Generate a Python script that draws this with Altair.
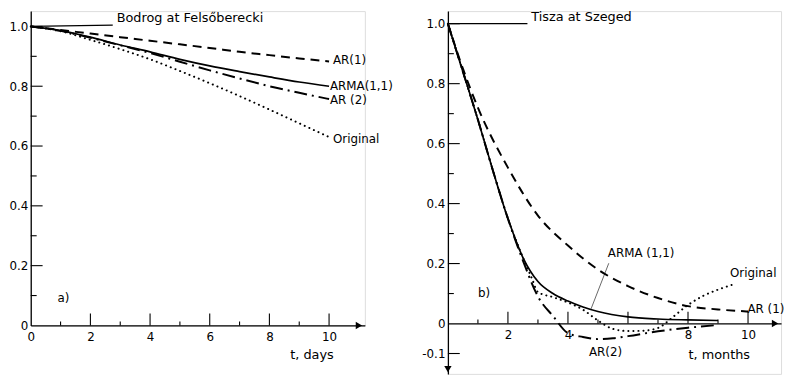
import altair as alt
import pandas as pd

# ---------------- data ----------------
# Panel a) Bodrog at Felsőberecki, t in days
left_t = [0, 1, 2, 3, 4, 5, 6, 7, 8, 9, 10]
left_ar1 = [1.0, 0.988, 0.976, 0.964, 0.952, 0.940, 0.928, 0.915, 0.904, 0.893, 0.883]
left_arma = [1.0, 0.986, 0.964, 0.938, 0.915, 0.890, 0.868, 0.849, 0.831, 0.814, 0.800]
left_ar2 = [1.0, 0.985, 0.962, 0.937, 0.911, 0.882, 0.853, 0.826, 0.800, 0.778, 0.757]
left_orig = [1.0, 0.984, 0.955, 0.924, 0.890, 0.851, 0.810, 0.767, 0.722, 0.676, 0.630]

# Panel b) Tisza at Szeged, t in months
right_ar1_t = [0, 0.5, 1, 2, 3, 4, 5, 6, 7, 8, 9, 10]
right_ar1 = [1.0, 0.85, 0.72, 0.52, 0.36, 0.26, 0.18, 0.125, 0.085, 0.058, 0.047, 0.04]
right_arma_t = [0, 0.5, 1, 1.5, 2, 2.5, 3, 3.5, 4, 4.5, 5, 6, 7, 8, 9]
right_arma = [1.0, 0.84, 0.68, 0.51, 0.35, 0.22, 0.14, 0.10, 0.075, 0.055, 0.04, 0.022, 0.015, 0.012, 0.01]
right_ar2_t = [0, 0.5, 1, 1.5, 2, 2.5, 3, 3.5, 4, 4.5, 5, 5.5, 6, 7, 8, 9]
right_ar2 = [1.0, 0.84, 0.68, 0.51, 0.35, 0.21, 0.09, 0.025, -0.032, -0.045, -0.052, -0.049, -0.042, -0.026, -0.014, -0.005]
right_orig_t = [0, 0.5, 1, 1.5, 2, 2.5, 2.8, 3.0, 3.5, 4.0, 4.5, 5.0, 5.5, 6.0, 6.5, 7.0, 7.5, 8.0, 8.5, 9.0, 9.5]
right_orig = [1.0, 0.84, 0.68, 0.51, 0.35, 0.22, 0.15, 0.105, 0.088, 0.07, 0.046, 0.01, -0.018, -0.025,
              -0.024, -0.015, 0.022, 0.062, 0.092, 0.113, 0.13]

# tick values
left_x_labels = [0, 2, 4, 6, 8, 10]
left_y_labels = [0, 0.2, 0.4, 0.6, 0.8, 1.0]
right_x_labels = [2, 4, 8, 10]
right_y_labels = [-0.1, 0, 0.2, 0.4, 0.6, 0.8, 1.0]
x_major = [2, 4, 6, 8, 10]
x_minor = [1, 3, 5, 7, 9]
left_y_major = [0.2, 0.4, 0.6, 0.8, 1.0]
left_y_minor = [0.1, 0.3, 0.5, 0.7, 0.9]
right_y_major = [-0.1, 0.2, 0.4, 0.6, 0.8, 1.0]
right_y_minor = [0.1, 0.3, 0.5, 0.7, 0.9]

# annotations (text, t, value)
left_labels = [("AR(1)", 10.13, 0.886), ("ARMA(1,1)", 10.03, 0.800), ("AR (2)", 10.03, 0.754),
               ("Original", 10.13, 0.625), ("a)", 0.9, 0.093)]
left_title = ("Bodrog at Felsőberecki", 2.88, 1.028)
left_leader = (0, 2.75, 1.0, 1.004)
right_labels = [("ARMA (1,1)", 5.33, 0.234), ("AR(2)", 4.70, -0.096), ("Original", 9.40, 0.168),
                ("AR (1)", 9.98, 0.049), ("b)", 1.0, 0.102)]
right_title = ("Tisza at Szeged", 2.78, 1.022)
right_leader = (0, 2.65, 1.0, 1.0)
right_arma_leader = (5.36, 4.77, 0.201, 0.049)

FONT = "DejaVu Sans"
STYLES = {
    "AR(1)": dict(strokeDash=[9, 6], strokeWidth=2.0),
    "ARMA(1,1)": dict(strokeWidth=1.7),
    "AR(2)": dict(strokeDash=[13, 5, 2, 5], strokeWidth=2.0),
    "Original": dict(strokeDash=[0.1, 5], strokeWidth=2.0, strokeCap="round"),
}


def panel(series, xdom, ydom, width, height, xlabels, ylabels, xtitle, title_x, title_y,
          xoffset, ymajor, yminor, labels, title, leader, extra_leader, arrows):
    xs = alt.Scale(domain=xdom, nice=False, zero=False)
    ys = alt.Scale(domain=ydom, nice=False, zero=False)
    xa = alt.Axis(values=xlabels, ticks=False, grid=False, labelPadding=6, labelFontSize=12,
                  labelColor="black", labelFont=FONT, labelFlush=False, labelOverlap=False,
                  domainColor="black", domainWidth=1.3, offset=xoffset,
                  title=xtitle, titleX=title_x, titleY=title_y, titleAlign="center",
                  titleBaseline="middle", titleFontWeight="normal", titleFontSize=13,
                  titleFont=FONT, titleColor="black")
    ya = alt.Axis(values=ylabels, ticks=False, grid=False, labelPadding=3, labelFontSize=12,
                  labelColor="black", labelFont=FONT, labelFlush=False, labelOverlap=False,
                  domainColor="black", domainWidth=1.3, title=None,
                  labelExpr="datum.value == 0 ? '0' : replace(format(datum.value, '.1f'), '\u2212', '-')")

    def X(f):
        return alt.X(f, type="quantitative", scale=xs, axis=xa)

    def Y(f):
        return alt.Y(f, type="quantitative", scale=ys, axis=ya)

    layers = []
    for name, (ts, vs) in series.items():
        df = pd.DataFrame({"t": ts, "v": vs})
        layers.append(alt.Chart(df).mark_line(color="black", interpolate="monotone",
                                              **STYLES[name]).encode(x=X("t"), y=Y("v")))
    # inward y ticks
    for vals, ln in ((ymajor, 12), (yminor, 6)):
        df = pd.DataFrame({"t": [0] * len(vals), "v": vals})
        layers.append(alt.Chart(df).mark_rule(color="black", strokeWidth=1.1, x2Offset=ln).encode(
            x=X("t"), x2="t", y=Y("v")))
    # inward x ticks
    for vals, ln in ((x_major, 12), (x_minor, 4)):
        df = pd.DataFrame({"t": vals, "v": [0] * len(vals)})
        layers.append(alt.Chart(df).mark_rule(color="black", strokeWidth=1.1, y2Offset=-ln).encode(
            x=X("t"), y=Y("v"), y2="v"))
    # leader lines
    lead = [leader] + ([extra_leader] if extra_leader else [])
    ldf = pd.DataFrame({"t": [l[0] for l in lead], "t2": [l[1] for l in lead],
                        "v": [l[2] for l in lead], "v2": [l[3] for l in lead],
                        "w": [1.3] + [0.6] * (len(lead) - 1)})
    layers.append(alt.Chart(ldf).mark_rule(color="black").encode(
        x=X("t"), x2="t2", y=Y("v"), y2="v2",
        strokeWidth=alt.StrokeWidth("w:Q", scale=None)))
    # text labels
    tdf = pd.DataFrame({"label": [l[0] for l in labels], "t": [l[1] for l in labels],
                        "v": [l[2] for l in labels]})
    layers.append(alt.Chart(tdf).mark_text(align="left", baseline="middle", fontSize=12,
                                           font=FONT, color="black").encode(
        x=X("t"), y=Y("v"), text="label:N"))
    hdf = pd.DataFrame({"label": [title[0]], "t": [title[1]], "v": [title[2]]})
    layers.append(alt.Chart(hdf).mark_text(align="left", baseline="middle", fontSize=13,
                                           font=FONT, color="black").encode(
        x=X("t"), y=Y("v"), text="label:N"))
    # arrow heads
    for shape, t, v in arrows:
        adf = pd.DataFrame({"t": [t], "v": [v]})
        layers.append(alt.Chart(adf).mark_point(shape=shape, filled=True, size=55, color="black",
                                                opacity=1).encode(x=X("t"), y=Y("v")))
    return alt.layer(*layers).properties(width=width, height=height)


left = panel(
    {"AR(1)": (left_t, left_ar1), "ARMA(1,1)": (left_t, left_arma),
     "AR(2)": (left_t, left_ar2), "Original": (left_t, left_orig)},
    [0, 11.2], [0, 1.0512], 338, 318, left_x_labels, left_y_labels, "t, days", 284, 29, 0,
    left_y_major, left_y_minor, left_labels, left_title, left_leader, None,
    [("triangle-right", 11.0, 0)])

right = panel(
    {"AR(1)": (right_ar1_t, right_ar1), "ARMA(1,1)": (right_arma_t, right_arma),
     "AR(2)": (right_ar2_t, right_ar2), "Original": (right_orig_t, right_orig)},
    [0, 11.1], [-0.168, 1.042], 337, 367, right_x_labels, right_y_labels, "t, months", 274, 31, -51,
    right_y_major, right_y_minor, right_labels, right_title, right_leader, right_arma_leader,
    [("triangle-right", 10.9, 0), ("triangle-down", 0, -0.152)])

chart = alt.hconcat(left, right, spacing=84, bounds="flush").properties(padding=0).configure_view(
    stroke=None).configure(font=FONT)

chart.save("out.html", embed_options={"renderer": "svg", "actions": False})
